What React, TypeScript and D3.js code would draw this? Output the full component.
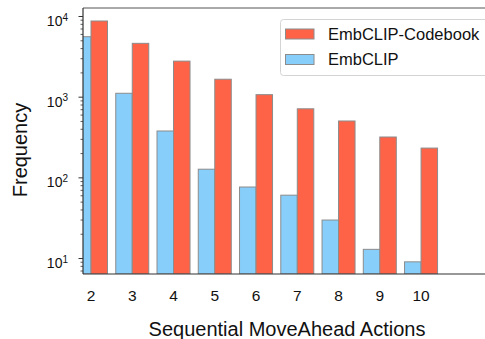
import React, { useEffect, useRef } from 'react';
import * as d3 from 'd3';

// data
const actions = [2, 3, 4, 5, 6, 7, 8, 9, 10];
const codebookCounts = [8800, 4650, 2800, 1670, 1075, 718, 507, 321, 234];
const embclipCounts = [5620, 1118, 381, 128, 77, 61, 30, 13, 9.1];
const yDecades = [1, 2, 3, 4];
const seriesNames = ['EmbCLIP-Codebook', 'EmbCLIP'];
const seriesColors = ['#FF6347', '#87CEFA'];

const W = 485;
const H = 339;

const drawChart = (el: SVGSVGElement) => {
    const svg = d3.select(el);
    svg.selectAll('*').remove();

    const left = 83, right = 485, top = 8, bottom = 274;
    const font = '"Liberation Sans", Arial, sans-serif';

    // x is linear in action count, bars sit either side of the tick
    const x = d3.scaleLinear().domain([1.806, 11.55]).range([left, right]);
    const y = d3.scaleLog().domain([6.43, 12750]).range([bottom, top]);
    const barW = x(2.4) - x(2);

    const g = svg.append('g');
    g.append('clipPath').attr('id', 'plotclip')
        .append('rect').attr('x', left).attr('y', top).attr('width', right - left).attr('height', bottom - top);

    const bars = g.append('g').attr('clip-path', 'url(#plotclip)');
    // EmbCLIP left of tick
    bars.selectAll('.blue')
        .data(actions)
        .enter().append('rect')
        .attr('class', 'blue')
        .attr('x', (d) => x(d) - barW)
        .attr('y', (d, i) => y(embclipCounts[i]))
        .attr('width', barW)
        .attr('height', (d, i) => bottom - y(embclipCounts[i]))
        .attr('fill', seriesColors[1])
        .attr('stroke', '#8c8c8c')
        .attr('stroke-width', 1);
    // Codebook right of tick
    bars.selectAll('.red')
        .data(actions)
        .enter().append('rect')
        .attr('class', 'red')
        .attr('x', (d) => x(d))
        .attr('y', (d, i) => y(codebookCounts[i]))
        .attr('width', barW)
        .attr('height', (d, i) => bottom - y(codebookCounts[i]))
        .attr('fill', seriesColors[0])
        .attr('stroke', '#8c8c8c')
        .attr('stroke-width', 1);

    // frame
    g.append('line').attr('x1', left).attr('x2', right).attr('y1', top).attr('y2', top)
        .attr('stroke', '#555').attr('stroke-width', 1);
    g.append('line').attr('x1', left).attr('x2', right).attr('y1', bottom).attr('y2', bottom)
        .attr('stroke', '#333').attr('stroke-width', 1.2);
    g.append('line').attr('x1', left).attr('x2', left).attr('y1', top).attr('y2', bottom)
        .attr('stroke', '#333').attr('stroke-width', 1.2);

    // y ticks, major + minor
    const minor: number[] = [];
    for (let p = 0; p <= 4; p++) {
        for (let m = 2; m <= 9; m++) {
            const v = m * Math.pow(10, p);
            if (v >= y.domain()[0] && v <= y.domain()[1]) minor.push(v);
        }
    }
    g.selectAll('.minor')
        .data(minor)
        .enter().append('line')
        .attr('x1', left - 2.5).attr('x2', left)
        .attr('y1', (d) => y(d)).attr('y2', (d) => y(d))
        .attr('stroke', '#333').attr('stroke-width', 0.8);
    g.selectAll('.major')
        .data(yDecades)
        .enter().append('line')
        .attr('x1', left - 4.5).attr('x2', left)
        .attr('y1', (d) => y(Math.pow(10, d))).attr('y2', (d) => y(Math.pow(10, d)))
        .attr('stroke', '#333').attr('stroke-width', 1);

    const ylab = g.selectAll('.ylab')
        .data(yDecades)
        .enter().append('text')
        .attr('x', 68)
        .attr('y', (d) => y(Math.pow(10, d)) + 9.5)
        .attr('text-anchor', 'end')
        .style('font-family', font)
        .style('font-size', '14px')
        .attr('fill', '#111');
    ylab.append('tspan').text('10');
    ylab.append('tspan').attr('dy', -5.5).style('font-size', '10px').text((d) => String(d));

    // x tick labels
    g.selectAll('.xlab')
        .data(actions)
        .enter().append('text')
        .attr('x', (d) => x(d))
        .attr('y', 301)
        .attr('text-anchor', 'middle')
        .style('font-family', font)
        .style('font-size', '15.5px')
        .attr('fill', '#111')
        .text((d) => String(d));

    // axis titles
    g.append('text')
        .attr('x', 287).attr('y', 336)
        .attr('text-anchor', 'middle')
        .style('font-family', font).style('font-size', '20px').attr('fill', '#111')
        .text('Sequential MoveAhead Actions');
    g.append('text')
        .attr('transform', 'translate(27,150) rotate(-90)')
        .attr('text-anchor', 'middle')
        .style('font-family', font).style('font-size', '20px').attr('fill', '#111')
        .text('Frequency');

    // legend
    g.append('rect').attr('x', 280.5).attr('y', 19.5).attr('width', 215).attr('height', 56)
        .attr('rx', 3).attr('fill', 'white').attr('fill-opacity', 0.85)
        .attr('stroke', '#d4d4d4').attr('stroke-width', 1);
    seriesNames.forEach((name, i) => {
        const ly = 29 + i * 25.5;
        g.append('rect').attr('x', 285.5).attr('y', ly).attr('width', 28.5).attr('height', 10)
            .attr('fill', seriesColors[i]).attr('stroke', '#8c8c8c').attr('stroke-width', 1);
        g.append('text').attr('x', 328).attr('y', ly + 10.5)
            .style('font-family', font).style('font-size', '16.5px').attr('fill', '#111')
            .text(name);
    });
};

const App = () => {
    const ref = useRef<SVGSVGElement>(null);

    useEffect(() => {
        if (ref.current) drawChart(ref.current);
    }, []);

    return (
        <div style={{ position: 'absolute', left: 0, top: 0, width: W, height: H, background: 'white' }}>
            <svg ref={ref} width={W} height={H} style={{ display: 'block' }} />
        </div>
    );
};

export default App;
